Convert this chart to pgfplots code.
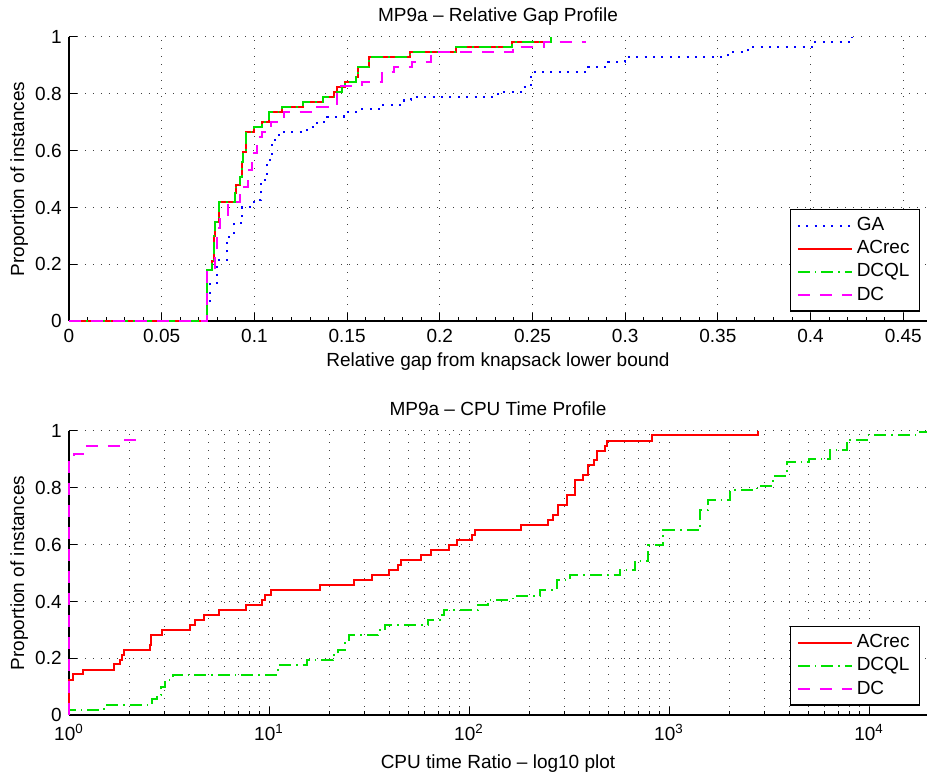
\documentclass[border=0pt]{standalone}
\usepackage{fontspec}
\setmainfont{Liberation Sans}
\usepackage{pgfplots}
\pgfplotsset{compat=1.18}

\definecolor{gaBlue}{RGB}{0,0,255}
\definecolor{acRed}{RGB}{255,0,0}
\definecolor{dcqlGreen}{RGB}{0,225,0}
\definecolor{dcMag}{RGB}{255,0,255}

\pgfplotsset{
  profile/.style={
    scale only axis, width=429pt, height=142pt,
    font=\fontsize{9.5}{11}\selectfont,
    axis x line*=bottom, axis y line*=left,
    axis line style={black, line width=0.6pt},
    tick align=inside, major tick length=4pt, minor tick length=2pt,
    tick style={black, line width=0.5pt},
    ymin=0, ymax=1,
    ytick={0,0.2,0.4,0.6,0.8,1},
    yticklabels={0,0.2,0.4,0.6,0.8,1},
    yticklabel style={anchor=base east, inner sep=0pt, xshift=-3.5pt, yshift=-3.4pt},
    xticklabel style={anchor=base, inner sep=0pt, yshift=-11pt},
    xmajorgrids, ymajorgrids,
    grid style={black!75, line width=0.5pt, dash pattern=on 0.6pt off 3.4pt},
    clip=false,
    ylabel={Proportion of instances},
    ylabel style={anchor=base, at={(axis description cs:-0.0524,0.5)}},
    title style={anchor=base, at={(axis description cs:0.5,1)}, yshift=1.5pt},
    legend style={anchor=south east, at={(0.992,0.033)}, draw=black, line width=0.6pt,
                  fill=white, inner xsep=3pt, inner ysep=2pt, row sep=-0.6pt,
                  font=\fontsize{9.5}{11}\selectfont},
    legend cell align=left,
    legend image code/.code={\draw[#1] (0pt,0pt) -- (27pt,0pt);},
  },
  gaStyle/.style={gaBlue, line width=1pt, dash pattern=on 1pt off 3.2pt, const plot},
  acStyle/.style={acRed, line width=1pt, solid, const plot},
  dcqlStyle/.style={dcqlGreen, line width=1pt, dash pattern=on 6pt off 2.5pt on 0.8pt off 2.5pt, const plot},
  dcStyle/.style={dcMag, line width=1pt, dash pattern=on 6pt off 5pt, const plot},
}

\begin{document}
\begin{tikzpicture}
\useasboundingbox (0,0) rectangle (463.5pt,388pt);

% relative gap profile
\begin{axis}[profile,
    at={(34.5pt,227.5pt)}, anchor=south west,
    xmin=0, xmax=0.4628,
    xtick={0,0.05,0.1,0.15,0.2,0.25,0.3,0.35,0.4,0.45},
    xticklabels={0,0.05,0.1,0.15,0.2,0.25,0.3,0.35,0.4,0.45},
    minor x tick num=4,
    title={MP9a -- Relative Gap Profile},
    xlabel={Relative gap from knapsack lower bound},
    xlabel style={anchor=base, at={(axis description cs:0.5,0)}, yshift=-23pt},
]
\addplot[gaStyle] coordinates {
  (0,0) (0.0744,0.05) (0.0759,0.133) (0.0799,0.215) (0.0853,0.297) (0.0889,0.344)
  (0.0934,0.402) (0.0997,0.426) (0.1033,0.496) (0.1069,0.567) (0.1096,0.637)
  (0.1132,0.667) (0.1286,0.684) (0.134,0.702) (0.1394,0.72) (0.1483,0.737)
  (0.1574,0.745) (0.1682,0.76) (0.1808,0.778) (0.1844,0.79) (0.2313,0.80)
  (0.2349,0.807) (0.2439,0.825) (0.2493,0.878) (0.2692,0.878) (0.28,0.895)
  (0.2908,0.913) (0.2998,0.931) (0.3503,0.931) (0.3557,0.948) (0.3665,0.966)
  (0.4008,0.966) (0.4026,0.984) (0.4224,1.0)
};
\addplot[acStyle] coordinates {
  (0,0) (0.0744,0.18) (0.0772,0.212) (0.0784,0.30) (0.079,0.35) (0.081,0.42)
  (0.0895,0.45) (0.0903,0.479) (0.0921,0.508) (0.0932,0.56) (0.0939,0.596)
  (0.0956,0.667) (0.1,0.684) (0.104,0.702) (0.108,0.737) (0.115,0.755)
  (0.126,0.772) (0.137,0.79) (0.143,0.807) (0.1448,0.825) (0.149,0.842)
  (0.1547,0.86) (0.156,0.895) (0.162,0.93) (0.184,0.948) (0.2088,0.966)
  (0.2389,0.982) (0.26,0.982)
};
\addplot[dcqlStyle] coordinates {
  (0,0) (0.0744,0.18) (0.0772,0.212) (0.0784,0.30) (0.079,0.35) (0.081,0.42)
  (0.0895,0.45) (0.0903,0.479) (0.0921,0.508) (0.0932,0.56) (0.0939,0.596)
  (0.0956,0.667) (0.1,0.684) (0.104,0.702) (0.108,0.737) (0.115,0.755)
  (0.126,0.772) (0.137,0.79) (0.1448,0.807) (0.147,0.825) (0.149,0.842)
  (0.1547,0.86) (0.156,0.895) (0.162,0.93) (0.184,0.948) (0.2088,0.966)
  (0.2389,0.982) (0.26,1.0)
};
\addplot[dcStyle] coordinates {
  (0,0) (0.0744,0.18) (0.079,0.25) (0.080,0.326) (0.0815,0.37) (0.0855,0.42)
  (0.0925,0.473) (0.0965,0.53) (0.0988,0.59) (0.1015,0.649) (0.104,0.667)
  (0.1087,0.70) (0.116,0.737) (0.134,0.755) (0.1443,0.807) (0.1465,0.826)
  (0.158,0.843) (0.169,0.878) (0.1754,0.895) (0.185,0.913) (0.195,0.948)
  (0.2394,0.966) (0.256,0.984) (0.279,0.984)
};
\legend{GA, ACrec, DCQL, DC}
\end{axis}

% CPU time profile
\begin{axis}[profile,
    at={(34.5pt,30.5pt)}, anchor=south west,
    xmode=log, xmin=1, xmax=19498,
    xtick={1,10,100,1000,10000},
    xticklabels={10\textsuperscript{0},10\textsuperscript{1},10\textsuperscript{2},10\textsuperscript{3},10\textsuperscript{4}},
    xticklabel style={yshift=-2pt},
    xminorgrids,
    minor grid style={black!75, line width=0.5pt, dash pattern=on 0.6pt off 3.4pt},
    title={MP9a -- CPU Time Profile},
    xlabel={CPU time Ratio -- log10 plot},
    xlabel style={anchor=base, at={(axis description cs:0.5,0)}, yshift=-27pt},
]
\addplot[acStyle] coordinates {
  (1,0) (1,0.124) (1.05,0.144) (1.18,0.159) (1.67,0.179) (1.80,0.194) (1.84,0.212)
  (1.89,0.228) (2.53,0.247) (2.57,0.28) (2.92,0.298) (4.05,0.316) (4.29,0.333)
  (4.72,0.351) (5.61,0.368) (7.64,0.386) (9.19,0.404) (9.51,0.421) (10.2,0.439)
  (18.0,0.457) (26.5,0.475) (32.6,0.492) (40,0.51) (44.1,0.527) (45.8,0.545)
  (57.7,0.563) (64.3,0.58) (79.4,0.598) (87.5,0.616) (103.5,0.634) (107.6,0.651)
  (181,0.668) (249,0.687) (264,0.704) (277,0.739) (308,0.774) (339,0.827)
  (373,0.845) (393,0.88) (420,0.898) (436,0.93) (480,0.948) (489,0.966)
  (823,0.986) (2780,1.0)
};
\addplot[dcqlStyle] coordinates {
  (1,0) (1,0.018) (1.5,0.035) (2.6,0.055) (2.75,0.07) (2.9,0.1) (3.03,0.124)
  (3.3,0.141) (11.1,0.175) (15.4,0.192) (20.9,0.21) (22.1,0.23) (24,0.265)
  (25,0.28) (35.2,0.298) (38,0.316) (62.3,0.335) (71.3,0.353) (75,0.368)
  (111,0.389) (125,0.406) (166,0.42) (226,0.439) (274,0.475) (320,0.492)
  (569,0.51) (676,0.544) (788,0.597) (936,0.65) (1429,0.722) (1573,0.757)
  (2018,0.793) (2752,0.807) (3315,0.842) (3890,0.891) (4990,0.903)
  (6380,0.933) (7750,0.969) (9720,0.987) (17980,0.995) (19498,0.995)
};
\addplot[dcStyle] coordinates {
  (1,0) (1,0.90) (1.06,0.918) (1.17,0.948) (1.91,0.968) (2.17,1.0)
};
\legend{ACrec, DCQL, DC}
\end{axis}
\end{tikzpicture}
\end{document}
